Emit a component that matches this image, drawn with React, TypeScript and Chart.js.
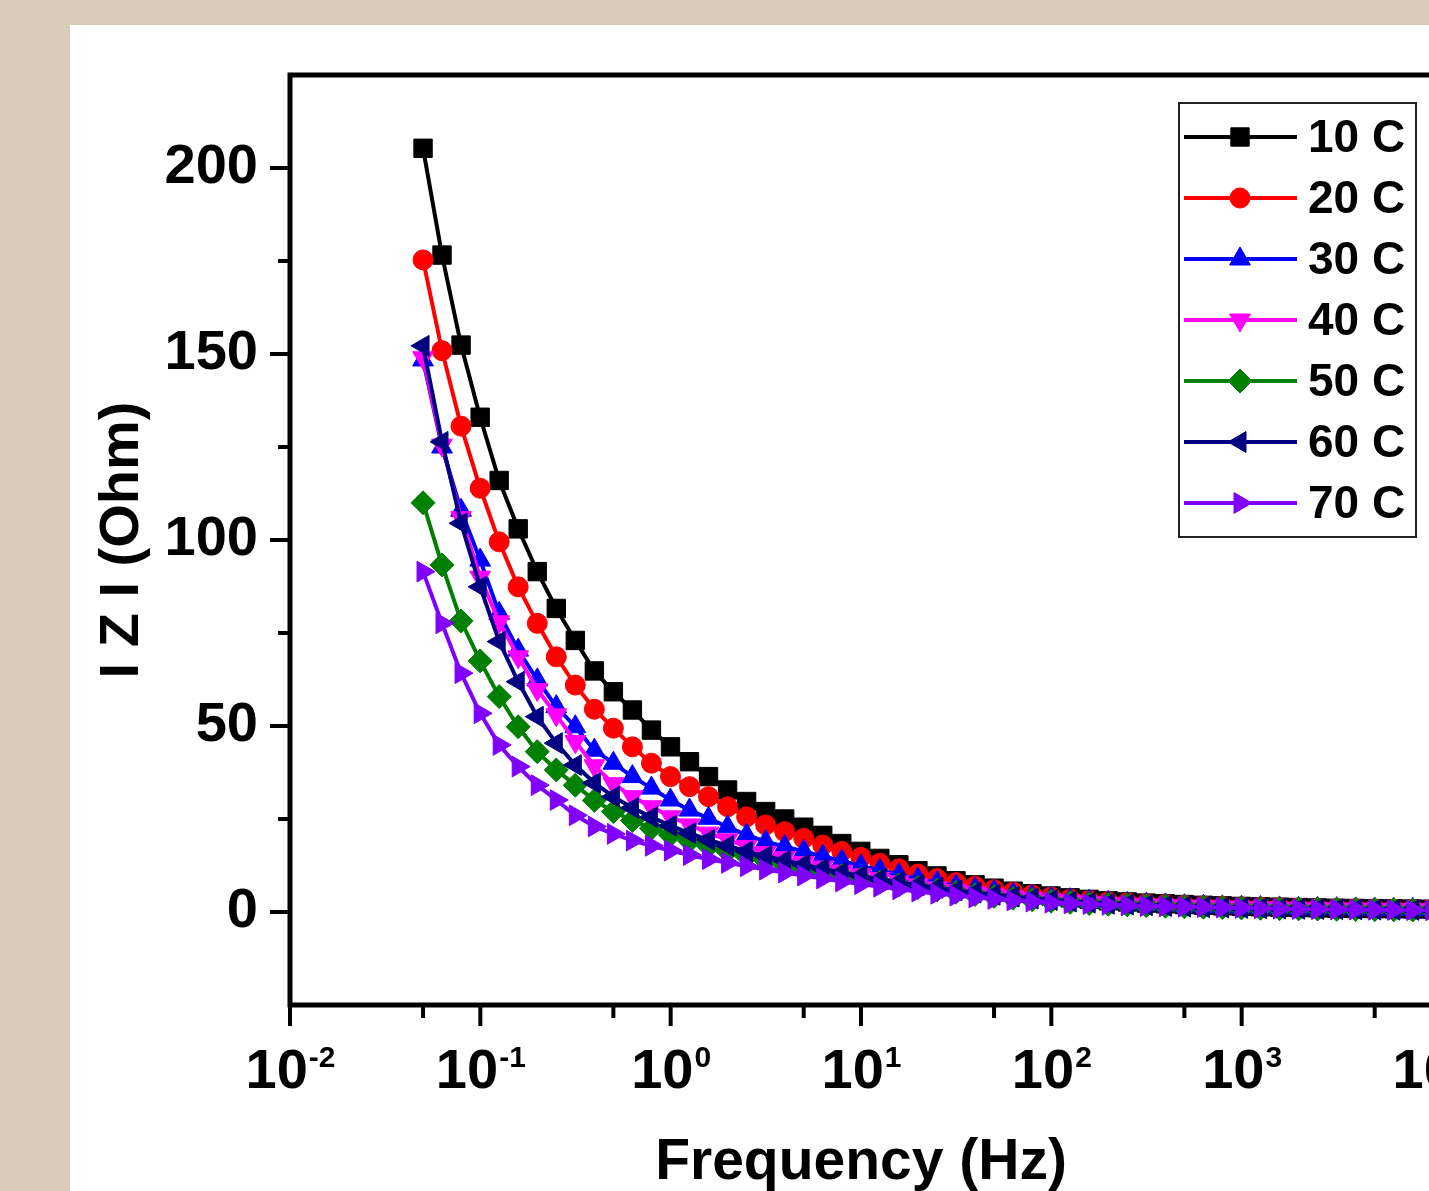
import React, { useEffect, useRef } from 'react';
import { Chart, registerables } from 'chart.js';
import { drawPoint } from 'chart.js/helpers';

Chart.register(...registerables);

// ---- data ----
const frequenciesHz = [
  0.05, 0.0629, 0.0792, 0.0998, 0.1256, 0.1581, 0.1991, 0.2506, 0.3155, 0.3972,
  0.5, 0.6295, 0.7924, 0.9976, 1.256, 1.581, 1.991, 2.506, 3.155, 3.972,
  5, 6.295, 7.924, 9.976, 12.56, 15.81, 19.91, 25.06, 31.55, 39.72,
  50, 62.95, 79.24, 99.76, 125.6, 158.1, 199.1, 250.6, 315.5, 397.2,
  500, 629.5, 792.4, 997.6, 1256, 1581, 1991, 2506, 3155, 3972,
  5000, 6295, 7924, 9976,
];

const z10C = [
  205.3, 176.6, 152.4, 133.0, 116.0, 103.0, 91.5, 81.6, 73.0, 64.8,
  59.2, 54.3, 48.9, 44.4, 40.4, 36.4, 32.8, 29.7, 27.0, 25.0,
  22.8, 20.6, 18.4, 16.3, 14.4, 12.7, 11.1, 9.7, 8.4, 7.3,
  6.4, 5.6, 4.9, 4.3, 3.8, 3.4, 3.0, 2.7, 2.4, 2.2,
  2.0, 1.8, 1.65, 1.5, 1.4, 1.3, 1.2, 1.1, 1.0, 0.95,
  0.9, 0.85, 0.8, 0.75,
];
const z20C = [
  175.3, 150.9, 130.6, 113.9, 99.5, 87.4, 77.6, 68.6, 61.0, 54.5,
  49.4, 44.4, 40.0, 36.4, 33.7, 31.0, 28.3, 25.6, 23.4, 21.6,
  19.8, 18.0, 16.3, 14.7, 13.1, 11.6, 10.2, 9.0, 7.9, 6.9,
  6.0, 5.3, 4.6, 4.0, 3.5, 3.1, 2.8, 2.5, 2.2, 2.0,
  1.8, 1.65, 1.5, 1.4, 1.3, 1.2, 1.1, 1.0, 0.95, 0.9,
  0.85, 0.8, 0.75, 0.7,
];
const z30C = [
  148.4, 125.0, 108.0, 94.6, 80.3, 70.4, 62.4, 55.2, 49.8, 43.5,
  40.0, 36.4, 33.3, 30.1, 27.4, 25.2, 22.9, 20.7, 18.9, 17.6,
  16.3, 15.0, 13.7, 12.4, 11.2, 10.0, 8.9, 7.9, 7.0, 6.2,
  5.5, 4.8, 4.2, 3.7, 3.3, 2.9, 2.6, 2.3, 2.1, 1.9,
  1.7, 1.55, 1.4, 1.3, 1.2, 1.1, 1.0, 0.95, 0.9, 0.85,
  0.8, 0.75, 0.7, 0.65,
];
const z40C = [
  149.0, 125.5, 106.0, 90.0, 78.0, 68.6, 59.8, 53.0, 45.8, 39.3,
  34.5, 31.0, 28.3, 25.6, 23.4, 21.2, 19.4, 17.6, 16.0, 14.6,
  13.3, 12.1, 11.0, 10.0, 9.0, 8.1, 7.3, 6.5, 5.8, 5.2,
  4.6, 4.1, 3.6, 3.2, 2.9, 2.6, 2.3, 2.1, 1.9, 1.7,
  1.55, 1.4, 1.3, 1.2, 1.1, 1.0, 0.9, 0.85, 0.8, 0.75,
  0.7, 0.65, 0.6, 0.55,
];
const z50C = [
  110.0, 93.3, 78.2, 67.5, 57.9, 49.8, 43.1, 38.2, 34.1, 30.0,
  27.0, 24.6, 22.5, 20.7, 19.1, 17.7, 16.3, 15.0, 13.8, 12.7,
  11.7, 10.7, 9.8, 8.9, 8.1, 7.3, 6.6, 5.9, 5.3, 4.7,
  4.2, 3.7, 3.3, 2.9, 2.6, 2.3, 2.1, 1.9, 1.7, 1.55,
  1.4, 1.3, 1.2, 1.1, 1.0, 0.9, 0.85, 0.8, 0.75, 0.7,
  0.65, 0.6, 0.55, 0.5,
];
const z60C = [
  152.2, 126.4, 104.5, 87.4, 72.7, 61.9, 52.5, 45.4, 39.5, 34.7,
  31.0, 28.0, 25.5, 23.2, 21.2, 19.4, 17.8, 16.3, 15.0, 13.8,
  12.7, 11.6, 10.6, 9.7, 8.8, 8.0, 7.2, 6.5, 5.8, 5.2,
  4.6, 4.1, 3.6, 3.2, 2.8, 2.5, 2.2, 2.0, 1.8, 1.6,
  1.45, 1.3, 1.2, 1.1, 1.0, 0.9, 0.85, 0.8, 0.75, 0.7,
  0.65, 0.6, 0.55, 0.5,
];
const z70C = [
  91.5, 77.6, 64.2, 53.4, 44.9, 39.1, 34.1, 30.1, 26.0, 23.0,
  21.0, 19.2, 17.8, 16.5, 15.3, 14.2, 13.2, 12.3, 11.4, 10.6,
  9.8, 9.0, 8.2, 7.5, 6.8, 6.1, 5.5, 4.9, 4.4, 3.9,
  3.5, 3.1, 2.8, 2.5, 2.3, 2.1, 1.9, 1.75, 1.6, 1.5,
  1.4, 1.3, 1.2, 1.1, 1.0, 0.9, 0.8, 0.75, 0.7, 0.65,
  0.6, 0.55, 0.5, 0.45,
];

const seriesLabels = ['10 C', '20 C', '30 C', '40 C', '50 C', '60 C', '70 C'];
const seriesValues = [z10C, z20C, z30C, z40C, z50C, z60C, z70C];

const yTickValues = [0, 50, 100, 150, 200];
const yMinorTickValues = [25, 75, 125, 175];
const xDecadeExponents = [-2, -1, 0, 1, 2, 3, 4];
const xMinorTickValues = [0.05, 0.5, 5, 50, 500, 5000];

// ---- styles ----
const seriesStyles = [
  { color: '#000000', pointStyle: 'rect', rotation: 0, radius: 13 },
  { color: '#FF0000', pointStyle: 'circle', rotation: 0, radius: 10 },
  { color: '#0000FF', pointStyle: 'triangle', rotation: 0, radius: 12 },
  { color: '#FF00FF', pointStyle: 'triangle', rotation: 180, radius: 12 },
  { color: '#008000', pointStyle: 'rectRot', rotation: 0, radius: 12 },
  { color: '#000080', pointStyle: 'triangle', rotation: 270, radius: 12 },
  { color: '#8000FF', pointStyle: 'triangle', rotation: 90, radius: 12 },
];

const FONT = "'Liberation Sans', Arial, Helvetica, sans-serif";

const originPlugin = {
  id: 'originFrame',
  afterDraw(chart: any) {
    const { ctx, chartArea: ca, scales } = chart;
    const xs = scales.x;
    const ys = scales.y;
    ctx.save();
    ctx.strokeStyle = '#000';
    ctx.lineCap = 'butt';
    ctx.lineWidth = 4;
    ctx.beginPath();
    for (const v of yTickValues) {
      const y = ys.getPixelForValue(v);
      ctx.moveTo(ca.left - 20, y);
      ctx.lineTo(ca.left, y);
    }
    for (const v of yMinorTickValues) {
      const y = ys.getPixelForValue(v);
      ctx.moveTo(ca.left - 12, y);
      ctx.lineTo(ca.left, y);
    }
    for (const n of xDecadeExponents) {
      const x = xs.getPixelForValue(Math.pow(10, n));
      ctx.moveTo(x, ca.bottom);
      ctx.lineTo(x, ca.bottom + 21);
    }
    for (const v of xMinorTickValues) {
      const x = xs.getPixelForValue(v);
      ctx.moveTo(x, ca.bottom);
      ctx.lineTo(x, ca.bottom + 13);
    }
    ctx.stroke();
    ctx.lineWidth = 5;
    ctx.strokeRect(ca.left, ca.top, ca.right - ca.left, ca.bottom - ca.top);

    // x tick labels with superscript exponent
    ctx.fillStyle = '#000';
    ctx.textAlign = 'left';
    ctx.textBaseline = 'alphabetic';
    for (const n of xDecadeExponents) {
      const x = xs.getPixelForValue(Math.pow(10, n));
      ctx.font = `bold 56px ${FONT}`;
      const w1 = ctx.measureText('10').width;
      ctx.font = `bold 30px ${FONT}`;
      const sup = String(n);
      const w2 = ctx.measureText(sup).width;
      const start = x - (w1 + w2) / 2;
      ctx.font = `bold 56px ${FONT}`;
      ctx.fillText('10', start, ca.bottom + 83);
      ctx.font = `bold 30px ${FONT}`;
      ctx.fillText(sup, start + w1 + 1, ca.bottom + 62);
    }

    // legend
    const boxW = 237;
    const boxH = 434;
    const boxRight = ca.right - 16;
    const boxLeft = boxRight - boxW;
    const boxTop = ca.top + 28;
    ctx.fillStyle = '#fff';
    ctx.fillRect(boxLeft, boxTop, boxW, boxH);
    ctx.lineWidth = 2;
    ctx.strokeStyle = '#222';
    ctx.strokeRect(boxLeft, boxTop, boxW, boxH);
    chart.data.datasets.forEach((ds: any, i: number) => {
      const y = boxTop + 34 + i * 61;
      ctx.strokeStyle = ds.borderColor;
      ctx.lineWidth = 4;
      ctx.beginPath();
      ctx.moveTo(boxLeft + 5, y);
      ctx.lineTo(boxLeft + 118, y);
      ctx.stroke();
      ctx.fillStyle = ds.backgroundColor;
      ctx.lineWidth = 1;
      drawPoint(ctx, {
        pointStyle: ds.pointStyle,
        rotation: ds.pointRotation,
        radius: ds.pointRadius,
        borderWidth: 1,
      } as any, boxLeft + 61, y);
      ctx.fillStyle = '#000';
      ctx.font = `bold 46px ${FONT}`;
      ctx.textAlign = 'left';
      ctx.textBaseline = 'middle';
      ctx.fillText(ds.label, boxLeft + 129, y + 2);
    });
    ctx.restore();
  },
};

export default function App() {
  const canvasRef = useRef<HTMLCanvasElement | null>(null);

  useEffect(() => {
    const canvas = canvasRef.current;
    if (!canvas) return;
    const datasets = seriesLabels.map((label, i) => ({
      label,
      data: frequenciesHz.map((f, k) => ({ x: f, y: seriesValues[i][k] })),
      borderColor: seriesStyles[i].color,
      backgroundColor: seriesStyles[i].color,
      borderWidth: 4,
      pointStyle: seriesStyles[i].pointStyle,
      pointRotation: seriesStyles[i].rotation,
      pointRadius: seriesStyles[i].radius,
      pointBorderWidth: 1,
      tension: 0,
      order: seriesLabels.length - i,
    }));

    const chart = new Chart(canvas, {
      type: 'line',
      data: { datasets } as any,
      plugins: [originPlugin],
      options: {
        animation: false,
        responsive: false,
        devicePixelRatio: 1,
        layout: { padding: { top: 50, right: 38, left: 0, bottom: 0 } },
        plugins: { legend: { display: false }, tooltip: { enabled: false } },
        scales: {
          x: {
            type: 'logarithmic',
            min: 0.01,
            max: 10000,
            grid: { display: false, drawTicks: false },
            border: { display: false },
            ticks: { display: false },
            title: {
              display: true,
              text: 'Frequency (Hz)',
              color: '#000',
              font: { family: FONT, size: 57, weight: 'bold' },
              padding: { top: 0, bottom: 28 },
            },
            afterFit: (scale: any) => {
              scale.height = 220;
            },
          },
          y: {
            type: 'linear',
            min: -25,
            max: 225,
            grid: { display: false, drawTicks: false },
            border: { display: false },
            ticks: {
              stepSize: 25,
              padding: 32,
              color: '#000',
              font: { family: FONT, size: 56, weight: 'bold', lineHeight: 0.5 },
              callback: (v: any) => (Number(v) % 50 === 0 ? String(v) : ''),
            },
            title: {
              display: true,
              text: 'I Z I (Ohm)',
              color: '#000',
              font: { family: FONT, size: 56, weight: 'bold' },
              padding: { top: 19, bottom: 0 },
            },
            afterFit: (scale: any) => {
              scale.width = 220;
            },
          },
        },
      } as any,
    });
    return () => chart.destroy();
  }, []);

  return (
    <div
      style={{
        position: 'fixed',
        left: 0,
        top: 0,
        width: 1429,
        height: 1191,
        overflow: 'hidden',
        background: '#D9CDB9',
      }}
    >
      <div
        style={{
          position: 'absolute',
          left: 70,
          top: 25,
          width: 1500,
          height: 1300,
          background: '#ffffff',
        }}
      >
        <canvas
          ref={canvasRef}
          width={1400}
          height={1200}
          style={{ display: 'block', width: 1400, height: 1200 }}
        />
      </div>
    </div>
  );
}
